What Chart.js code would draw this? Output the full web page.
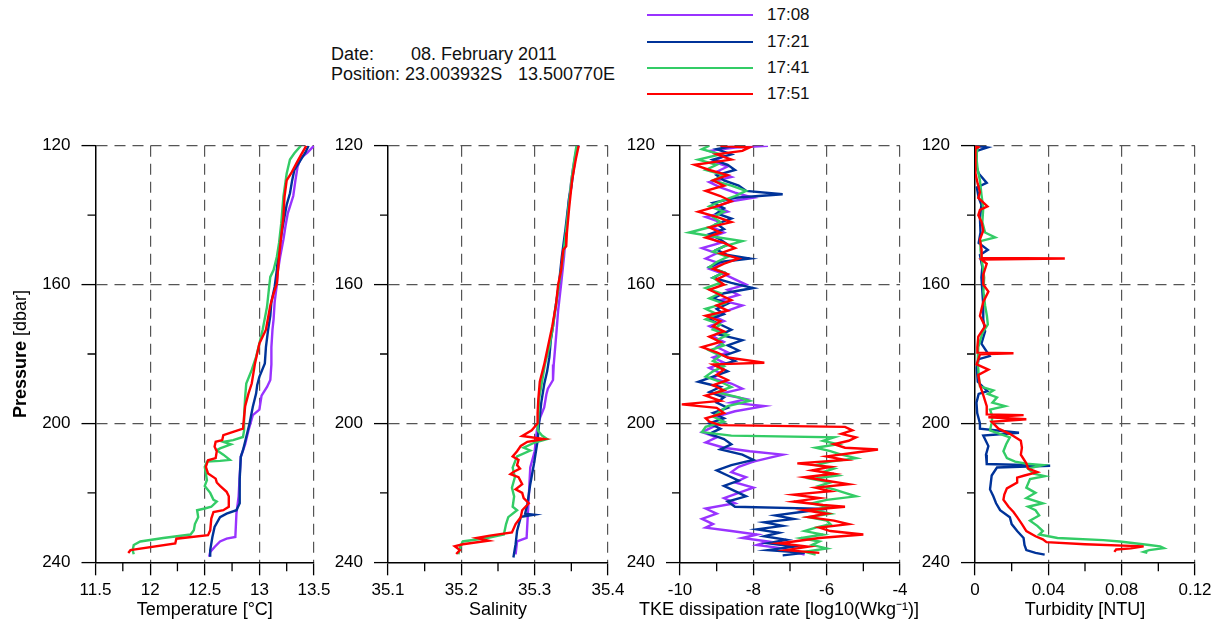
<!DOCTYPE html>
<html>
<head>
<meta charset="utf-8">
<title>CTD profiles 08 Feb 2011</title>
<script src="https://cdn.jsdelivr.net/npm/chart.js@4.4.1/dist/chart.umd.min.js"></script>
<style>
  body { margin: 0; width: 1219px; height: 624px; position: relative; overflow: hidden; background: #fff;
         font-family: "Liberation Sans", Arial, sans-serif; color: #111; }
  canvas { position: absolute; }
  .txt { position: absolute; font-size: 18px; line-height: 20px; white-space: pre; }
  .leg-line { position: absolute; height: 2.5px; width: 106px; }
  .leg-txt { position: absolute; font-size: 17px; line-height: 20px; }
</style>
</head>
<body>
<div class="txt" style="left:331px;top:44px">Date:</div>
<div class="txt" style="left:411px;top:44px">08. February 2011</div>
<div class="txt" style="left:331px;top:64px">Position: 23.003932S</div>
<div class="txt" style="left:518px;top:64px">13.500770E</div>
<div id="legend"></div>
<script>
// casts, in order of time
const seriesNames = ['17:08', '17:21', '17:41', '17:51'];
const seriesColors = ['#9933ff', '#003399', '#33cc66', '#ff0000'];

// ticks shared by all panels (pressure, dbar)
const pressureTicks = [120, 140, 160, 180, 200, 220, 240];
const pressureLabels = ['120', '', '160', '', '200', '', '240'];

const tempTicks = [11.5, 11.75, 12, 12.25, 12.5, 12.75, 13, 13.25, 13.5];
const tempLabels = ['11.5', '', '12', '', '12.5', '', '13', '', '13.5'];
const salTicks = [35.1, 35.15, 35.2, 35.25, 35.3, 35.35, 35.4];
const salLabels = ['35.1', '', '35.2', '', '35.3', '', '35.4'];
const tkeTicks = [-10, -9, -8, -7, -6, -5, -4];
const tkeLabels = ['-10', '', '-8', '', '-6', '', '-4'];
const turbTicks = [0, 0.02, 0.04, 0.06, 0.08, 0.1, 0.12];
const turbLabels = ['0', '', '0.04', '', '0.08', '', '0.12'];

// profiles: [pressure, value]
const temp1708 = [[120,13.50],[121,13.47],[122,13.44],[123.5,13.38],[126,13.35],[130,13.33],[134.5,13.31],[139.5,13.26],[143,13.24],[147,13.22],[152,13.19],[156,13.17],[160,13.16],[165,13.14],[170,13.13],[173,13.12],[178,13.11],[183,13.11],[187.5,13.10],[189.5,13.07],[192,13.02],[196,13.00],[197.6,12.94],[202,12.90],[206,12.87],[209.6,12.83],[215,12.82],[221,12.81],[226,12.79],[232.7,12.78],[233.2,12.70],[234,12.64],[235.6,12.59],[237,12.55],[238.4,12.54]];
const temp1721 = [[120,13.45],[122,13.42],[124,13.38],[127,13.32],[130,13.30],[133.7,13.28],[137,13.25],[140.5,13.23],[144,13.21],[148,13.19],[152,13.17],[155.8,13.16],[160.6,13.14],[165,13.11],[169,13.10],[173,13.08],[178,13.06],[182.7,13.05],[186.6,13.00],[189,12.98],[191.4,12.97],[195.2,12.94],[200,12.91],[203.9,12.88],[207.7,12.85],[209.6,12.83],[216,12.82],[220,12.82],[223,12.82],[225,12.79],[226,12.70],[227,12.64],[229.8,12.59],[232.7,12.57],[236.5,12.55],[238.4,12.55]];
const temp1741 = [[120,13.38],[122.2,13.32],[124,13.28],[128,13.25],[134.7,13.22],[142.4,13.20],[148,13.18],[152,13.16],[155.8,13.13],[157.8,13.10],[160.5,13.09],[166.4,13.07],[173,13.03],[177,13.00],[180.8,12.97],[184.6,12.93],[188.5,12.88],[192.3,12.87],[198,12.86],[202,12.86],[203.9,12.85],[204.8,12.76],[205.3,12.67],[206,12.74],[207.2,12.64],[207.7,12.61],[209,12.67],[210.5,12.73],[210.8,12.64],[211,12.52],[212.5,12.50],[216.3,12.52],[218,12.50],[220,12.55],[222,12.58],[222.5,12.61],[224,12.56],[224.5,12.50],[225,12.43],[227,12.44],[229,12.41],[230.8,12.40],[232,12.37],[233,12.12],[234,11.91],[235,11.85],[236.5,11.84],[237.7,11.85]];
const temp1751 = [[120,13.43],[122.7,13.38],[125,13.34],[128,13.29],[130,13.25],[134.7,13.23],[140.5,13.22],[146,13.20],[152,13.18],[159.7,13.16],[162.6,13.13],[166,13.10],[173,13.06],[177,13.00],[182.7,12.96],[188.5,12.93],[191.4,12.90],[195,12.87],[201.5,12.85],[202.4,12.76],[203.4,12.67],[204.8,12.66],[205.3,12.60],[206.7,12.59],[208,12.61],[210,12.60],[210.6,12.53],[212.5,12.51],[214.4,12.53],[215.9,12.60],[217,12.61],[218,12.64],[219.7,12.70],[221,12.72],[224,12.72],[225,12.67],[225.5,12.58],[227.4,12.56],[230.8,12.55],[232.2,12.53],[233.2,12.24],[234.6,12.23],[236.5,11.82],[237.3,11.80]];

const sal1708 = [[120,35.360],[122,35.356],[127,35.352],[135,35.347],[144.5,35.343],[152,35.340],[160,35.336],[167.5,35.332],[173,35.330],[178,35.328],[183,35.326],[187.5,35.325],[190,35.318],[191.6,35.316],[195.4,35.313],[198,35.308],[200,35.305],[202,35.303],[208,35.300],[212.7,35.294],[221,35.292],[229,35.290],[233,35.289],[234,35.276],[237.7,35.274]];
const sal1721 = [[120,35.358],[127,35.353],[132,35.350],[135,35.347],[144,35.342],[152,35.337],[160,35.333],[167,35.328],[172,35.325],[176,35.322],[181,35.320],[185,35.317],[188.7,35.313],[194,35.309],[200,35.306],[205,35.304],[211.7,35.299],[217.5,35.294],[223.3,35.290],[226,35.287],[226.3,35.299],[226.8,35.284],[227,35.281],[231,35.276],[234.8,35.274],[238.6,35.271]];
const sal1741 = [[120,35.357],[124,35.354],[130,35.350],[138,35.346],[146,35.342],[153,35.338],[160,35.333],[166,35.329],[172,35.325],[178,35.320],[183,35.314],[188,35.310],[193,35.306],[198,35.305],[202,35.304],[203.5,35.310],[204.5,35.317],[205.5,35.300],[207,35.285],[207.8,35.294],[209.5,35.276],[212.7,35.270],[215.5,35.273],[218.5,35.269],[221,35.272],[224,35.270],[225,35.276],[227,35.264],[229,35.261],[232,35.258],[233,35.235],[234,35.202],[235.8,35.198],[237.7,35.196]];
const sal1751 = [[120,35.360],[124,35.356],[130,35.351],[138,35.347],[145,35.344],[149,35.343],[150,35.339],[156,35.336],[160,35.332],[166,35.329],[172,35.324],[178,35.318],[183,35.313],[188,35.307],[193,35.305],[197,35.304],[200,35.304],[202,35.296],[203.6,35.283],[204.5,35.313],[205.3,35.290],[206.5,35.281],[208,35.276],[209.5,35.270],[210.5,35.278],[212,35.276],[213,35.280],[214,35.271],[214.6,35.267],[215.5,35.278],[217.5,35.283],[219,35.274],[220,35.283],[221.5,35.285],[223,35.292],[225,35.283],[227,35.281],[229,35.274],[231.4,35.269],[232.3,35.239],[233,35.221],[233.8,35.237],[234.8,35.202],[235.4,35.191],[236.5,35.198],[237.6,35.193]];

const tke1708 = [[120,-7.6],[120.5,-8.5],[121.5,-9.2],[123,-8.8],[124.5,-9.1],[126,-8.7],[127.5,-9.0],[129,-8.6],[130.5,-9.2],[132,-8.9],[133.5,-8.5],[135,-8.0],[136,-8.6],[137.5,-9.0],[139,-8.7],[140.5,-9.3],[142,-8.9],[143.5,-9.1],[145,-8.8],[146.5,-9.2],[148,-8.9],[149.5,-9.4],[151,-9.0],[152.5,-9.3],[154,-8.9],[155.5,-9.2],[157,-8.8],[158.5,-8.5],[160,-8.2],[161.5,-8.7],[163,-8.4],[164.5,-8.9],[166,-8.3],[167.5,-8.7],[169,-9.1],[170.5,-8.8],[172,-9.2],[173.5,-8.9],[175,-9.1],[176.5,-8.8],[178,-9.0],[179.5,-8.7],[181,-9.1],[182.5,-8.8],[184,-9.2],[185.5,-8.9],[187,-9.1],[188.5,-8.6],[190,-8.3],[191.5,-8.9],[193,-8.2],[194,-8.6],[195,-7.7],[196.5,-8.5],[198,-9.0],[199.5,-8.8],[201,-9.1],[202.5,-9.4],[204,-9.0],[205.5,-9.3],[207,-8.8],[208,-8.1],[209,-7.2],[210,-7.6],[211,-8.0],[212.5,-8.4],[214,-8.6],[215.5,-8.2],[217,-8.5],[218.5,-8.0],[220,-8.4],[221.5,-8.8],[223,-8.5],[224.5,-9.3],[226,-9.0],[227.5,-9.4],[229,-9.1],[230,-9.3],[231,-8.6],[232,-7.9],[233,-8.3],[234,-7.6],[235,-7.9],[236,-7.2],[237,-6.9],[237.8,-6.6]];
const tke1721 = [[120,-8.5],[121,-9.0],[122.5,-8.6],[124,-9.1],[125.5,-8.7],[127,-8.5],[128.5,-9.0],[130,-8.8],[131.5,-8.4],[133,-8.2],[134,-7.2],[135,-8.5],[136.5,-9.1],[138,-8.8],[139.5,-9.0],[141,-8.6],[142.5,-9.0],[144,-8.8],[145.5,-9.2],[147,-8.9],[148.5,-8.7],[150,-9.0],[151.5,-8.7],[152.5,-8.1],[153.5,-8.9],[155,-9.2],[156.5,-8.8],[158,-9.1],[159.5,-8.6],[161,-8.0],[162.5,-8.8],[164,-9.1],[165.5,-8.7],[167,-9.0],[168.5,-8.8],[170,-9.2],[171.5,-8.9],[173,-8.6],[174.5,-8.9],[176,-8.3],[177.5,-8.7],[179,-8.4],[180.5,-8.8],[182,-8.5],[183.5,-9.0],[185,-8.7],[186.5,-9.1],[188,-9.5],[189.5,-8.9],[191,-9.2],[192.5,-8.8],[194,-9.0],[195.5,-8.7],[197,-9.1],[198.5,-8.8],[200,-9.2],[201.5,-8.9],[203,-9.2],[204.5,-8.8],[206,-8.6],[207.5,-8.9],[209,-8.3],[210.5,-8.0],[212,-8.6],[213.5,-9.0],[215,-8.7],[216.5,-8.4],[218,-8.8],[219.5,-8.5],[221,-8.2],[222.5,-8.7],[224,-8.5],[224.6,-6.0],[225.5,-6.7],[226.5,-7.4],[227.5,-6.9],[228.5,-7.7],[229.5,-7.2],[230.5,-7.9],[231.5,-7.3],[232.5,-7.7],[233.5,-7.1],[234.5,-7.6],[235.5,-6.9],[236.5,-7.6],[237.3,-6.6],[238,-7.2]];
const tke1741 = [[120,-9.2],[121,-9.4],[122.5,-8.9],[124,-9.5],[125.5,-9.0],[127,-9.3],[128.5,-8.8],[130,-9.1],[131.5,-8.6],[133,-8.2],[134.5,-8.5],[136,-8.9],[137.5,-9.2],[139,-8.8],[140.5,-9.1],[142,-8.9],[143.5,-9.2],[145,-9.75],[146.5,-8.9],[147.5,-8.3],[149,-8.8],[150.5,-9.1],[152,-8.7],[153.5,-9.0],[155,-9.2],[156.5,-8.8],[158,-9.1],[159.5,-8.9],[161,-9.3],[162.5,-8.9],[164,-9.2],[165.5,-8.8],[167,-9.3],[168.5,-9.0],[170,-9.3],[171.5,-8.9],[173,-9.1],[174.5,-8.7],[176,-9.0],[177.5,-8.8],[179,-9.2],[180.5,-8.9],[182,-9.1],[183.5,-8.8],[185,-9.1],[186.5,-9.3],[188,-8.9],[189.5,-8.6],[191,-9.0],[192.5,-8.4],[193.5,-8.1],[195,-8.7],[196.5,-8.9],[198,-9.1],[199.5,-8.8],[201,-9.3],[202.5,-9.4],[203.5,-8.6],[204,-5.8],[205,-6.1],[206,-5.7],[207,-6.3],[208,-5.9],[209,-5.6],[210,-5.2],[211,-5.9],[212,-6.3],[213,-5.8],[214,-6.1],[215,-5.7],[216,-6.4],[217,-5.9],[218,-6.2],[219,-5.8],[220,-5.5],[221,-5.2],[222,-6.0],[223,-6.4],[224,-6.0],[225,-6.3],[226,-5.9],[227,-6.5],[228,-6.0],[229,-5.9],[230,-6.3],[231,-6.6],[232,-6.1],[233,-6.7],[234,-6.2],[235,-6.4],[236,-6.0],[237,-6.6],[237.8,-6.3]];
const tke1751 = [[120,-8.9],[120.5,-8.1],[121.5,-8.3],[122.5,-9.0],[124,-8.6],[125.5,-9.6],[127,-9.2],[128.5,-8.7],[130,-9.1],[131.5,-8.8],[133,-9.3],[134.5,-8.9],[136,-8.6],[137.5,-9.0],[139,-9.5],[140.5,-9.0],[142,-8.6],[143.5,-9.2],[145,-8.9],[146.5,-9.3],[148,-8.8],[149.5,-8.5],[151,-8.9],[152.5,-8.4],[154,-8.8],[155.5,-9.1],[157,-8.7],[158.5,-9.0],[160,-8.8],[161.5,-9.2],[163,-8.9],[164.5,-8.6],[166,-9.0],[167.5,-8.7],[169,-9.3],[170.5,-8.9],[172,-9.1],[173.5,-8.8],[175,-9.2],[176.5,-8.9],[178,-9.4],[179.5,-9.0],[181,-8.7],[182.5,-7.7],[183,-9.1],[184.5,-8.8],[186,-9.0],[187.5,-8.7],[189,-9.1],[190.5,-8.8],[192,-9.3],[193.5,-8.9],[194.5,-9.95],[195.5,-9.0],[197,-8.8],[198.5,-9.3],[199.5,-9.2],[200.5,-8.9],[201,-5.5],[202,-5.3],[203,-5.6],[204,-5.2],[205,-5.4],[206,-5.8],[207,-5.5],[207.5,-4.6],[208.5,-5.3],[209.5,-6.0],[210.5,-5.5],[211.5,-6.8],[212.5,-5.9],[213.5,-6.4],[214.5,-5.8],[215.5,-6.6],[216.5,-6.0],[217.5,-5.4],[218.5,-6.3],[219.5,-5.9],[220.5,-6.9],[221.5,-6.2],[222.5,-6.9],[223.5,-6.1],[224,-5.5],[225,-6.6],[226,-6.0],[227,-6.5],[228,-5.8],[229,-5.4],[230,-6.2],[231,-5.9],[232,-5.0],[233,-6.2],[234,-6.9],[234.5,-7.3],[235.5,-6.5],[236.5,-7.1],[237.3,-6.2]];

// no turbidity record for the 17:08 cast
const turb1721 = [[120,0.0],[120.5,0.0068],[121.5,0.001],[125.5,0.0005],[128,0.002],[130.7,0.0064],[132,0.001],[135,0.002],[137,0.0035],[141,0.0027],[145,0.003],[148,0.002],[150,0.007],[151.5,0.0027],[155,0.004],[158,0.0035],[162,0.004],[166,0.0045],[170,0.0045],[173.5,0.0055],[177,0.0035],[180.6,0.008],[181.5,0.002],[184,0.001],[188,0.0015],[190.7,0.0068],[191.5,0.002],[194,0.0008],[197,0.0012],[200,0.0027],[201.5,0.0027],[202.7,0.024],[203.5,0.0045],[206.5,0.0073],[209,0.006],[211.7,0.0064],[212.2,0.041],[212.7,0.012],[215,0.0091],[219,0.0082],[221,0.01],[223,0.0115],[225,0.0137],[227,0.019],[229,0.02],[231,0.023],[233,0.0265],[235,0.027],[236.5,0.028],[237.3,0.033],[237.8,0.038]];
const turb1741 = [[120,0.0018],[122,0.001],[124,0.0009],[127,0.0015],[130,0.0027],[134,0.0035],[138,0.0045],[142,0.004],[145,0.0055],[146.4,0.011],[147.5,0.003],[150,0.003],[154,0.004],[158,0.005],[162,0.0046],[166,0.0055],[169,0.0065],[171.5,0.007],[174,0.004],[178,0.0018],[182,0.0015],[186,0.002],[189.3,0.0027],[190.5,0.01],[191.5,0.007],[192.5,0.012],[194,0.0095],[195,0.0164],[196,0.0082],[198,0.0095],[200,0.009],[202,0.0082],[204,0.019],[206,0.017],[208,0.0155],[210,0.0174],[211,0.0219],[211.6,0.028],[212,0.037],[213,0.029],[214.5,0.032],[215.2,0.038],[216,0.030],[218.5,0.028],[220,0.033],[221.5,0.028],[223,0.037],[224,0.029],[225,0.033],[226.5,0.035],[228,0.030],[229.5,0.034],[231,0.037],[232,0.035],[233,0.045],[233.6,0.070],[234,0.079],[235,0.095],[235.4,0.101],[235.9,0.103],[236.5,0.095],[237,0.092],[237.3,0.094]];
const turb1751 = [[120,0.0],[120.4,0.0018],[121,0.0],[125,0.0],[128,0.0005],[131,0.0015],[133.4,0.0027],[135,0.0018],[137.5,0.0068],[138.5,0.0027],[140,0.0018],[142,0.0036],[144.5,0.0045],[147,0.0027],[150,0.0036],[152.3,0.0036],[152.5,0.049],[152.8,0.0036],[154,0.0064],[157,0.0046],[160,0.0045],[162,0.0073],[165,0.0045],[169,0.0027],[172,0.0055],[175,0.0018],[178,0.0013],[179.6,0.0013],[179.8,0.021],[180.1,0.0027],[183,0.0009],[184.5,0.0073],[186,0.0018],[189,0.0027],[192,0.0046],[195,0.0064],[197.4,0.0064],[197.6,0.0265],[198.2,0.0073],[198.8,0.028],[199.5,0.0091],[201.5,0.0128],[203,0.019],[205,0.025],[207,0.0256],[209,0.025],[211.5,0.028],[213,0.029],[214,0.034],[215,0.027],[215.6,0.023],[217,0.023],[218.7,0.0174],[220.5,0.016],[222,0.0155],[224,0.0183],[225.5,0.021],[227,0.023],[229,0.0256],[231,0.028],[232.5,0.033],[233.4,0.037],[234.2,0.039],[234.8,0.060],[235.4,0.092],[236,0.085],[236.3,0.077],[237,0.076]];

// ---- layout ----
const CANVAS_TOP = 120;
const CANVAS_H = 504;
const PLOT_TOP = 145.7;
const X_AXIS_H = 61.7;   // plot bottom sits at 562.3
const RIGHT_PAD = 44;
const TITLE_Y = 610;
const FONT = '"Liberation Sans", Arial, sans-serif';
const GRID_COLOR = '#555';
const CLEAR = 'rgba(0,0,0,0)';

const panels = [
  { left: 0,   axisW: 95.5, plotW: 218.5, ticks: tempTicks, labels: tempLabels, title: 'Temperature [°C]', titleShift: 0,
    series: [temp1708, temp1721, temp1741, temp1751], pressureTitle: true },
  { left: 308, axisW: 80, plotW: 220, ticks: salTicks, labels: salLabels, title: 'Salinity', titleShift: 0,
    series: [sal1708, sal1721, sal1741, sal1751] },
  { left: 600, axisW: 80, plotW: 220, ticks: tkeTicks, labels: tkeLabels, title: 'TKE dissipation rate [log10(Wkg⁻¹)]', titleShift: -11,
    series: [tke1708, tke1721, tke1741, tke1751] },
  { left: 895, axisW: 80, plotW: 220, ticks: turbTicks, labels: turbLabels, title: 'Turbidity [NTU]', titleShift: 0,
    series: [null, turb1721, turb1741, turb1751] }
];

// short ticks for the unlabelled steps
const minorTicks = {
  id: 'minorTicks',
  afterDraw(chart) {
    const ctx = chart.ctx;
    ctx.save();
    ctx.strokeStyle = '#000';
    ctx.lineWidth = 1.3;
    const xs = chart.scales.x, ys = chart.scales.y;
    ctx.beginPath();
    xs.ticks.forEach(t => {
      if (t.label !== '') return;
      const px = xs.getPixelForValue(t.value);
      ctx.moveTo(px, xs.top);
      ctx.lineTo(px, xs.top + 9);
    });
    ys.ticks.forEach(t => {
      if (t.label !== '') return;
      const py = ys.getPixelForValue(t.value);
      ctx.moveTo(ys.right - 8, py);
      ctx.lineTo(ys.right, py);
    });
    ctx.stroke();
    ctx.restore();
  }
};

// x-axis caption, not squeezed to the plot width
const axisCaption = {
  id: 'axisCaption',
  afterDraw(chart, args, opts) {
    const ctx = chart.ctx;
    const ca = chart.chartArea;
    ctx.save();
    ctx.font = '18px ' + FONT;
    ctx.fillStyle = '#000';
    ctx.textAlign = 'center';
    ctx.textBaseline = 'middle';
    ctx.fillText(opts.text, (ca.left + ca.right) / 2 + opts.shift, TITLE_Y - CANVAS_TOP);
    ctx.restore();
  }
};

// "Pressure [dbar]" with the word in bold
const pressureTitle = {
  id: 'pressureTitle',
  afterDraw(chart) {
    const ctx = chart.ctx;
    const ca = chart.chartArea;
    ctx.save();
    ctx.translate(21, (ca.top + ca.bottom) / 2);
    ctx.rotate(-Math.PI / 2);
    ctx.textBaseline = 'middle';
    ctx.textAlign = 'left';
    ctx.fillStyle = '#000';
    const bold = 'bold 18px ' + FONT, normal = '18px ' + FONT;
    ctx.font = bold;
    const w1 = ctx.measureText('Pressure').width;
    ctx.font = normal;
    const w2 = ctx.measureText(' [dbar]').width;
    const x0 = -(w1 + w2) / 2;
    ctx.font = bold;
    ctx.fillText('Pressure', x0, 0);
    ctx.font = normal;
    ctx.fillText(' [dbar]', x0 + w1, 0);
    ctx.restore();
  }
};

function buildPanel(p) {
  const canvas = document.createElement('canvas');
  canvas.width = Math.round(p.axisW + p.plotW + RIGHT_PAD);
  canvas.height = CANVAS_H;
  canvas.style.left = p.left + 'px';
  canvas.style.top = CANVAS_TOP + 'px';
  document.body.appendChild(canvas);

  const datasets = [];
  p.series.forEach((rows, i) => {
    if (!rows) return;
    datasets.push({
      label: seriesNames[i],
      data: rows.map(r => ({ x: r[1], y: r[0] })),
      borderColor: seriesColors[i],
      backgroundColor: seriesColors[i],
      borderWidth: 2.4,
      pointRadius: 0,
      showLine: true,
      tension: 0,
      order: 3 - i
    });
  });

  const xMin = p.ticks[0], xMax = p.ticks[p.ticks.length - 1];
  const tickFont = { family: FONT, size: 17 };

  new Chart(canvas, {
    type: 'scatter',
    data: { datasets },
    options: {
      responsive: false,
      animation: false,
      events: [],
      layout: { padding: { top: PLOT_TOP - CANVAS_TOP, right: canvas.width - p.axisW - p.plotW, left: 0, bottom: 0 } },
      plugins: { legend: { display: false }, tooltip: { enabled: false }, axisCaption: { text: p.title, shift: p.titleShift } },
      scales: {
        x: {
          type: 'linear', position: 'bottom', min: xMin, max: xMax,
          afterBuildTicks: s => { s.ticks = p.ticks.map(v => ({ value: v })); },
          afterFit: s => { s.height = X_AXIS_H; },
          ticks: { callback: (v, i) => p.labels[i], autoSkip: false, maxRotation: 0, padding: 5, color: '#000', font: tickFont },
          grid: {
            color: c => (c.index > 0 && p.labels[c.index] !== '') ? GRID_COLOR : CLEAR,
            lineWidth: 1.2,
            tickLength: 13,
            tickWidth: 1.3,
            tickColor: c => p.labels[c.index] !== '' ? '#000' : CLEAR,
            tickBorderDash: []
          },
          border: { display: true, color: '#000', width: 1.5, dash: [11, 7] }
        },
        y: {
          type: 'linear', position: 'left', reverse: true,
          min: pressureTicks[0], max: pressureTicks[pressureTicks.length - 1],
          afterBuildTicks: s => { s.ticks = pressureTicks.map(v => ({ value: v })); },
          afterFit: s => { s.width = p.axisW; },
          ticks: { callback: (v, i) => pressureLabels[i], autoSkip: false, padding: 11, color: '#000', font: tickFont },
          grid: {
            color: c => (c.index < pressureTicks.length - 1 && pressureLabels[c.index] !== '') ? GRID_COLOR : CLEAR,
            lineWidth: 1.2,
            tickLength: 14,
            tickWidth: 1.3,
            tickColor: c => pressureLabels[c.index] !== '' ? '#000' : CLEAR,
            tickBorderDash: []
          },
          border: { display: true, color: '#000', width: 1.5, dash: [11, 7] }
        }
      }
    },
    plugins: p.pressureTitle ? [minorTicks, axisCaption, pressureTitle] : [minorTicks, axisCaption]
  });
}

panels.forEach(buildPanel);

// legend block at the top
const legendTops = [15, 42, 68, 94];
const legend = document.getElementById('legend');
seriesNames.forEach((name, i) => {
  const line = document.createElement('div');
  line.className = 'leg-line';
  line.style.left = '647px';
  line.style.top = (legendTops[i] - 1.25) + 'px';
  line.style.background = seriesColors[i];
  legend.appendChild(line);
  const txt = document.createElement('div');
  txt.className = 'leg-txt';
  txt.style.left = '767px';
  txt.style.top = (legendTops[i] - 10) + 'px';
  txt.textContent = name;
  legend.appendChild(txt);
});
</script>
</body>
</html>
